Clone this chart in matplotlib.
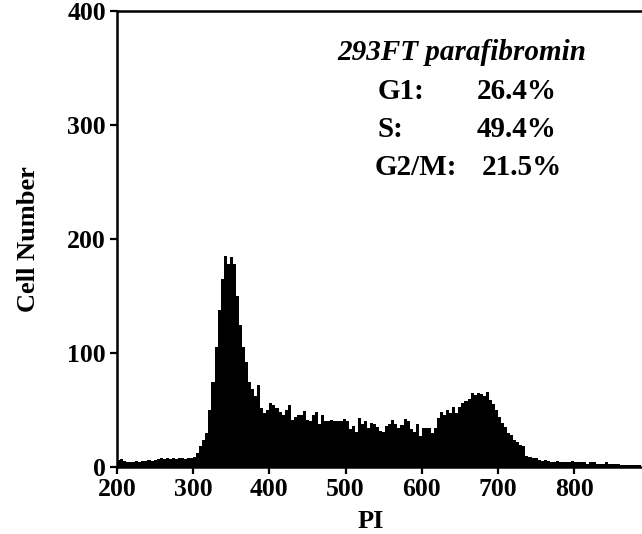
import numpy as np
import matplotlib
matplotlib.use("Agg")
import matplotlib.pyplot as plt

# ---- data ----
bin_start = 200
bin_width = 4
counts = [
    # 200-296
    6, 7, 5, 4, 4, 4, 5, 4, 5, 5, 6, 5, 6, 7, 8, 7, 8, 7, 8, 7, 8, 8, 7, 8, 8,
    # 300-396
    9, 12, 18, 24, 30, 50, 75, 105, 138, 165, 185, 178, 184, 178, 150, 125,
    105, 92, 75, 68, 62, 72, 52, 47, 50,
    # 400-496
    56, 54, 52, 48, 46, 50, 54, 41, 44, 46, 46, 49, 41, 40, 46, 48, 38, 46,
    40, 40, 41, 40, 40, 40, 42,
    # 500-596
    40, 33, 36, 31, 43, 38, 40, 34, 39, 38, 35, 32, 31, 36, 38, 41, 38, 34,
    37, 42, 40, 33, 31, 38, 27,
    # 600-696
    34, 34, 34, 30, 34, 43, 48, 46, 50, 47, 53, 47, 53, 56, 58, 60, 65, 63,
    65, 64, 62, 66, 59, 55, 50,
    # 700-796
    44, 39, 35, 30, 28, 24, 22, 19, 18, 10, 9, 8, 8, 6, 5, 6, 5, 4, 4, 5, 4,
    4, 4, 4, 5,
    # 800-884
    4, 4, 4, 4, 3, 4, 4, 3, 3, 3, 4, 3, 3, 3, 3, 2, 2, 2, 2, 2, 2, 2,
]
edges = bin_start + bin_width * np.arange(len(counts) + 1)

x_ticks = [200, 300, 400, 500, 600, 700, 800]
y_ticks = [0, 100, 200, 300, 400]
title_text = "293FT parafibromin"
phases = ["G1:", "S:", "G2/M:"]
percents = ["26.4%", "49.4%", "21.5%"]

# ---- figure ----
W, H = 642, 534
fig = plt.figure(figsize=(W / 100, H / 100), dpi=100)
ax = fig.add_axes([117 / W, 1 - 467 / H, (642 - 117) / W, (467 - 11) / H])

ax.stairs(counts, edges, fill=True, color="black", linewidth=0)

ax.set_xlim(200, 889)
ax.set_ylim(0, 400)
ax.set_xticks(x_ticks)
ax.set_yticks(y_ticks)

serif = "Liberation Serif"
for lab in ax.get_xticklabels() + ax.get_yticklabels():
    lab.set_fontfamily(serif)
    lab.set_fontweight("bold")
    lab.set_fontsize(18.5)

ax.tick_params(direction="out", length=5, width=1.6, pad=3, colors="black")
for s in ["left", "bottom", "top"]:
    ax.spines[s].set_linewidth(1.8)
ax.spines["right"].set_visible(False)

ax.set_xlabel("PI", fontfamily=serif, fontweight="bold", fontsize=19, labelpad=0)
ax.xaxis.set_label_coords(0.484, -0.095)
ax.set_ylabel("Cell Number", fontfamily=serif, fontweight="bold", fontsize=19)
ax.yaxis.set_label_coords(-0.146, 0.5)

def fx(px):
    return px / W

def fy(py):
    return 1 - py / H

ann_size = 21
fig.text(fx(337), fy(60), title_text, fontfamily=serif, fontweight="bold",
         fontstyle="italic", fontsize=ann_size, va="baseline")
rows_y = [99, 137, 175]
label_x = [378, 378, 375]
val_x = [477, 477, 482]
for ph, pc, yy, lx, vx in zip(phases, percents, rows_y, label_x, val_x):
    fig.text(fx(lx), fy(yy), ph, fontfamily=serif, fontweight="bold",
             fontsize=ann_size, va="baseline")
    fig.text(fx(vx), fy(yy), pc, fontfamily=serif, fontweight="bold",
             fontsize=ann_size, va="baseline")

fig.savefig("out.png", dpi=100)
